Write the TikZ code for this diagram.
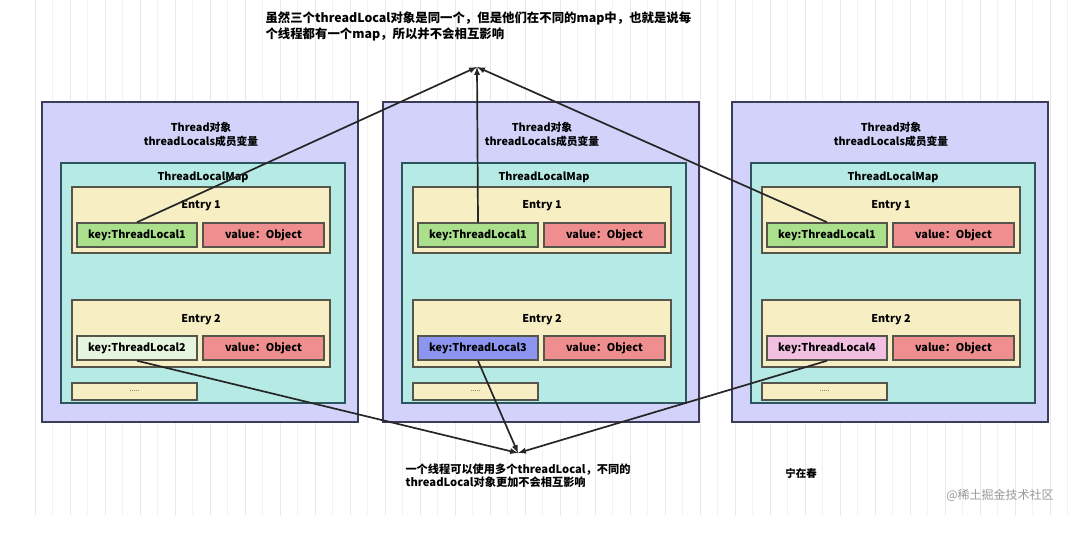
\documentclass[tikz,border=0pt]{standalone}
\usepackage{fontspec}
\setmainfont{Noto Sans CJK SC}
\usetikzlibrary{positioning}

\definecolor{threadfill}{RGB}{210,210,250}
\definecolor{threadline}{RGB}{60,60,90}
\definecolor{mapfill}{RGB}{182,234,228}
\definecolor{mapline}{RGB}{45,85,95}
\definecolor{entryfill}{RGB}{247,238,196}
\definecolor{entryline}{RGB}{85,85,75}
\definecolor{keygreen}{RGB}{170,224,140}
\definecolor{keylight}{RGB}{230,245,222}
\definecolor{keyblue}{RGB}{140,150,240}
\definecolor{keypink}{RGB}{242,190,225}
\definecolor{valred}{RGB}{238,142,142}

\newcommand{\boxfont}{\fontsize{10.8}{14}\selectfont\bfseries}
\newcommand{\notefont}{\fontsize{12.4}{16}\selectfont\bfseries}

\begin{document}
\begin{tikzpicture}[>=latex,x=1pt,y=-1pt,
  threadbox/.style={draw=threadline,fill=threadfill,line width=1.5pt,minimum width=316pt,minimum height=320pt},
  mapbox/.style={draw=mapline,fill=mapfill,line width=1.5pt,minimum width=284pt,minimum height=240pt},
  entrybox/.style={draw=entryline,fill=entryfill,line width=1.5pt,minimum width=258pt,minimum height=66pt},
  keybox/.style={draw=entryline,line width=1.5pt,minimum width=120pt,minimum height=24pt,font=\boxfont,inner sep=0pt},
  valbox/.style={keybox,fill=valred,minimum width=121pt},
  dotbox/.style={draw=entryline,fill=entryfill,line width=1.5pt,minimum width=125pt,minimum height=17pt,font=\scriptsize},
  link/.style={->,line width=1.7pt,black!85}]
\useasboundingbox (0,0) rectangle (1078,538);
\fill[white] (0,0) rectangle (1078,538);
\draw[black!5,step=17.5] (20,0) grid (1078,515);
\draw[black!9,step=35] (20,0) grid (1078,515);

% thread 1
\node[threadbox] (t1) at (200,262) {};
\node[font=\boxfont,align=center] (tl1) at (201,134) {Thread对象\\threadLocals成员变量};
\node[mapbox] (m1) at (203,283) {};
\node[font=\boxfont] (ml1) at (203,177) {ThreadLocalMap};
\node[entrybox] (ea1) at (201,220) {};
\node[font=\boxfont] (eal1) at (201,206) {Entry 1};
\node[keybox,fill=keygreen] (ka1) at (137,235) {key:ThreadLocal1};
\node[valbox] (va1) at (263.5,235) {value：Object};
\node[entrybox,minimum height=67pt] (eb1) at (201,333.5) {};
\node[font=\boxfont] (ebl1) at (201,320) {Entry 2};
\node[keybox,fill=keylight] (kb1) at (137,348) {key:ThreadLocal2};
\node[valbox] (vb1) at (263.5,348) {value：Object};
\node[dotbox] (d1) at (134.5,391.5) {.....};

% thread 2
\begin{scope}[xshift=341]
\node[threadbox] (t2) at (200,262) {};
\node[font=\boxfont,align=center] (tl2) at (201,134) {Thread对象\\threadLocals成员变量};
\node[mapbox] (m2) at (203,283) {};
\node[font=\boxfont] (ml2) at (203,177) {ThreadLocalMap};
\node[entrybox] (ea2) at (201,220) {};
\node[font=\boxfont] (eal2) at (201,206) {Entry 1};
\node[keybox,fill=keygreen] (ka2) at (137,235) {key:ThreadLocal1};
\node[valbox] (va2) at (263.5,235) {value：Object};
\node[entrybox,minimum height=67pt] (eb2) at (201,333.5) {};
\node[font=\boxfont] (ebl2) at (201,320) {Entry 2};
\node[keybox,fill=keyblue] (kb2) at (137,348) {key:ThreadLocal3};
\node[valbox] (vb2) at (263.5,348) {value：Object};
\node[dotbox] (d2) at (134.5,391.5) {.....};
\end{scope}

% thread 3
\begin{scope}[xshift=690]
\node[threadbox] (t3) at (200,262) {};
\node[font=\boxfont,align=center] (tl3) at (201,134) {Thread对象\\threadLocals成员变量};
\node[mapbox] (m3) at (203,283) {};
\node[font=\boxfont] (ml3) at (203,177) {ThreadLocalMap};
\node[entrybox] (ea3) at (201,220) {};
\node[font=\boxfont] (eal3) at (201,206) {Entry 1};
\node[keybox,fill=keygreen] (ka3) at (137,235) {key:ThreadLocal1};
\node[valbox] (va3) at (263.5,235) {value：Object};
\node[entrybox,minimum height=67pt] (eb3) at (201,333.5) {};
\node[font=\boxfont] (ebl3) at (201,320) {Entry 2};
\node[keybox,fill=keypink] (kb3) at (137,348) {key:ThreadLocal4};
\node[valbox] (vb3) at (263.5,348) {value：Object};
\node[dotbox] (d3) at (134.5,391.5) {.....};
\end{scope}

% notes
\node[font=\notefont,anchor=base west,align=left] (note1) at (262,38) {虽然三个threadLocal对象是同一个，但是他们在不同的map中，也就是说每\\个线程都有一个map，所以并不会相互影响};
\node[font=\fontsize{11.2}{12.5}\selectfont\bfseries,anchor=base west,align=left] (note2) at (402,486) {一个线程可以使用多个threadLocal，不同的\\threadLocal对象更加不会相互影响};
\node[font=\fontsize{10.5}{12}\selectfont\bfseries] (author) at (801,473) {宁在春};
\node[font=\fontsize{12}{14}\selectfont,black!40] (mark) at (1000,495) {@稀土掘金技术社区};

\coordinate (top) at (477,67);
\coordinate (bot) at (518,453);
\draw[link] (ka1.north) -- (top);
\draw[link] (ka2.north) -- (top);
\draw[link] (ka3.north) -- (top);
\draw[link] (kb1.south) -- (bot);
\draw[link] (kb2.south) -- (bot);
\draw[link] (kb3.south) -- (bot);
\end{tikzpicture}
\end{document}
